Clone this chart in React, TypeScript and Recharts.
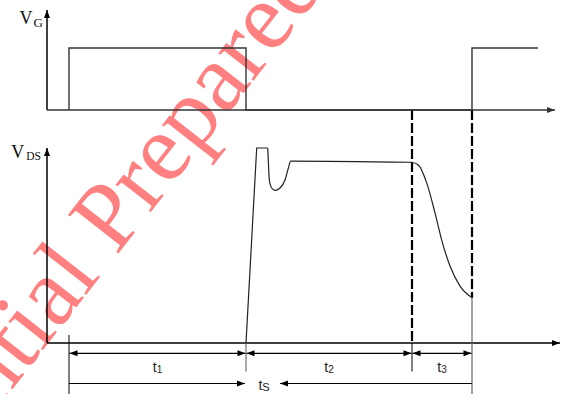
import React from 'react';
import { ComposedChart, Line, XAxis, YAxis, ReferenceLine, ReferenceDot } from 'recharts';

// time axis (arbitrary units from the origin), levels normalised to 1
const vgTime = [22, 22, 199, 199, 425, 425, 491];
const vgLevel = [0, 1, 1, 0, 0, 1, 1];

const vdsEdgeTime = [199, 209.7, 220.7];
const vdsEdgeLevel = [0, 1, 1];

const vdsRingTime = [220.7, 221.3, 222.3, 224.7, 228, 233, 238, 241.3, 243.7, 364.7];
const vdsRingLevel = [1, 0.938, 0.836, 0.795, 0.783, 0.795, 0.836, 0.896, 0.933, 0.927];

const vdsFallTime = [364.7, 371.3, 379.7, 388, 394.7, 403, 413, 425.3];
const vdsFallLevel = [0.927, 0.913, 0.821, 0.667, 0.528, 0.395, 0.292, 0.232];

const phaseEdges = [22, 199, 365, 425];
const phaseLabels = ['1', '2', '3'];
const switchLabel = 'S';

const W = 563;
const H = 394;
const LEFT = 47;

// pixel rows used to place the two traces in one plot
const VG_ZERO = 110;
const VG_ONE = 48;
const VDS_ZERO = 343;
const VDS_ONE = 148;
const vgDomain = [-(H - VG_ZERO) / (VG_ZERO - VG_ONE), VG_ZERO / (VG_ZERO - VG_ONE)];
const vdsDomain = [-(H - VDS_ZERO) / (VDS_ZERO - VDS_ONE), VDS_ZERO / (VDS_ZERO - VDS_ONE)];
const vds = (px: number) => (VDS_ZERO - px) / (VDS_ZERO - VDS_ONE);

const zip = (t: number[], v: number[]) => t.map((x, i) => ({ t: x, v: v[i] }));

const head = (x: number, y: number, a: number, color: string) => {
  const L = 8;
  const w = 3;
  const bx = x - L * Math.cos(a);
  const by = y - L * Math.sin(a);
  const px = w * Math.sin(a);
  const py = -w * Math.cos(a);
  return <polygon points={`${x},${y} ${bx + px},${by + py} ${bx - px},${by - py}`} fill={color} />;
};

const Arrow = (p: any) => {
  const { x1, y1, x2, y2, heads = 'end' } = p;
  const color = p.stroke || '#000';
  const a = Math.atan2(y2 - y1, x2 - x1);
  return (
    <g>
      <line x1={x1} y1={y1} x2={x2} y2={y2} stroke={color} strokeWidth={p.strokeWidth || 1.2} />
      {(heads === 'end' || heads === 'both') && head(x2, y2, a, color)}
      {(heads === 'start' || heads === 'both') && head(x1, y1, a + Math.PI, color)}
    </g>
  );
};

const sansFont = '"Liberation Sans Narrow", "Liberation Sans", Arial, sans-serif';
const serifFont = '"Liberation Serif", "Times New Roman", serif';

export default function App() {
  const rowY = vds(353.3);
  const labelY = vds(371.5);
  const row2Y = vds(383.5);
  const bottom = vdsDomain[0];

  return (
    <div style={{ position: 'absolute', left: 0, top: 0, width: W, height: H, background: '#fff' }}>
      <svg width={W} height={H} style={{ position: 'absolute', left: 0, top: 0 }}>
        <text
          transform="translate(25,373) rotate(-52)"
          x={-361}
          fontFamily={serifFont}
          fontSize={97}
          fill="#ff8080"
        >
          Confidential Prepared
        </text>
      </svg>
      <div style={{ position: 'absolute', left: 0, top: 0 }}>
        <ComposedChart width={W} height={H} margin={{ top: 0, right: 0, bottom: 0, left: LEFT }}>
          <XAxis type="number" dataKey="t" domain={[0, W - LEFT]} hide allowDataOverflow />
          <YAxis yAxisId="vg" type="number" domain={vgDomain} hide allowDataOverflow />
          <YAxis yAxisId="vds" type="number" domain={vdsDomain} hide allowDataOverflow />

          {/* axes */}
          <ReferenceLine yAxisId="vg" ifOverflow="visible" stroke="#000" strokeWidth={1.5}
            segment={[{ x: 0, y: 0 }, { x: 0, y: (VG_ZERO - 10) / (VG_ZERO - VG_ONE) }]} shape={(p: any) => <Arrow {...p} />} />
          <ReferenceLine yAxisId="vg" ifOverflow="visible" stroke="#333" strokeWidth={1.3}
            segment={[{ x: 0, y: 0 }, { x: 508, y: 0 }]} shape={(p: any) => <Arrow {...p} />} />
          <ReferenceLine yAxisId="vds" ifOverflow="visible" stroke="#000" strokeWidth={1.5}
            segment={[{ x: 0, y: 0 }, { x: 0, y: 1 }]} shape={(p: any) => <Arrow {...p} />} />
          <ReferenceLine yAxisId="vds" ifOverflow="visible" stroke="#000" strokeWidth={1.3}
            segment={[{ x: 0, y: 0 }, { x: 513, y: 0 }]} shape={(p: any) => <Arrow {...p} />} />

          {/* switching instants */}
          <ReferenceLine yAxisId="vds" ifOverflow="visible" stroke="#000" strokeWidth={2.2} strokeDasharray="10 3"
            segment={[{ x: phaseEdges[2], y: vds(VG_ZERO) }, { x: phaseEdges[2], y: 0 }]} />
          <ReferenceLine yAxisId="vds" ifOverflow="visible" stroke="#000" strokeWidth={1}
            segment={[{ x: phaseEdges[2], y: 0 }, { x: phaseEdges[2], y: labelY }]} />
          <ReferenceLine yAxisId="vds" ifOverflow="visible" stroke="#000" strokeWidth={2.2} strokeDasharray="10 3"
            segment={[{ x: phaseEdges[3], y: vds(VG_ZERO) }, { x: phaseEdges[3], y: vdsFallLevel[vdsFallLevel.length - 1] }]} />
          <ReferenceLine yAxisId="vds" ifOverflow="visible" stroke="#666" strokeWidth={1.2}
            segment={[{ x: phaseEdges[3], y: vdsFallLevel[vdsFallLevel.length - 1] }, { x: phaseEdges[3], y: bottom }]} />
          <ReferenceLine yAxisId="vds" ifOverflow="visible" stroke="#000" strokeWidth={1}
            segment={[{ x: phaseEdges[0], y: vds(335) }, { x: phaseEdges[0], y: bottom }]} />
          <ReferenceLine yAxisId="vds" ifOverflow="visible" stroke="#555" strokeWidth={1}
            segment={[{ x: phaseEdges[1], y: 0 }, { x: phaseEdges[1], y: labelY }]} />

          {/* interval arrows */}
          {phaseLabels.map((lab, i) => (
            <ReferenceLine key={'a' + lab} yAxisId="vds" ifOverflow="visible" stroke="#000" strokeWidth={1.2}
              segment={[{ x: phaseEdges[i] + 0.5, y: rowY }, { x: phaseEdges[i + 1] - 0.5, y: rowY }]}
              shape={(p: any) => <Arrow {...p} heads="both" />} />
          ))}
          {phaseLabels.map((lab, i) => (
            <ReferenceDot key={'l' + lab} yAxisId="vds" ifOverflow="visible" r={0}
              x={(phaseEdges[i] + phaseEdges[i + 1]) / 2} y={labelY}
              shape={(p: any) => (
                <text x={p.cx} y={p.cy} textAnchor="middle" fontFamily={sansFont} fontSize={14} fill="#222">
                  t<tspan fontSize={10} dy={1}>{lab}</tspan>
                </text>
              )} />
          ))}
          <ReferenceLine yAxisId="vds" ifOverflow="visible" stroke="#000" strokeWidth={1.2}
            segment={[{ x: phaseEdges[0], y: row2Y }, { x: phaseEdges[1] - 1, y: row2Y }]}
            shape={(p: any) => <Arrow {...p} />} />
          <ReferenceLine yAxisId="vds" ifOverflow="visible" stroke="#000" strokeWidth={1.2}
            segment={[{ x: phaseEdges[3], y: row2Y }, { x: 233, y: row2Y }]}
            shape={(p: any) => <Arrow {...p} />} />
          <ReferenceDot yAxisId="vds" ifOverflow="visible" r={0} x={217} y={vds(389.5)}
            shape={(p: any) => (
              <text x={p.cx} y={p.cy} textAnchor="middle" fontFamily={sansFont} fontSize={14} fill="#222">
                t<tspan fontSize={11} dy={1}>{switchLabel}</tspan>
              </text>
            )} />

          {/* axis titles */}
          <ReferenceDot yAxisId="vg" ifOverflow="visible" r={0} x={0} y={(VG_ZERO - 10) / (VG_ZERO - VG_ONE)}
            shape={(p: any) => (
              <text x={p.cx - 4} y={p.cy + 14} textAnchor="end" fontFamily={serifFont} fontSize={18} fill="#111">
                V<tspan fontSize={13} dx={1} dy={2.5}>G</tspan>
              </text>
            )} />
          <ReferenceDot yAxisId="vds" ifOverflow="visible" r={0} x={0} y={1}
            shape={(p: any) => (
              <text x={p.cx - 6} y={p.cy + 10} textAnchor="end" fontFamily={serifFont} fontSize={18} fill="#111">
                V<tspan fontSize={11.5} dx={2} dy={2}>DS</tspan>
              </text>
            )} />

          <Line yAxisId="vg" data={zip(vgTime, vgLevel)} dataKey="v" type="linear" stroke="#333" strokeWidth={1.4}
            dot={false} isAnimationActive={false} />
          <Line yAxisId="vds" data={zip(vdsEdgeTime, vdsEdgeLevel)} dataKey="v" type="linear" stroke="#222" strokeWidth={1.2}
            dot={false} isAnimationActive={false} />
          <Line yAxisId="vds" data={zip(vdsRingTime, vdsRingLevel)} dataKey="v" type="monotone" stroke="#222" strokeWidth={1.2}
            dot={false} isAnimationActive={false} />
          <Line yAxisId="vds" data={zip(vdsFallTime, vdsFallLevel)} dataKey="v" type="monotone" stroke="#222" strokeWidth={1.2}
            dot={false} isAnimationActive={false} />
        </ComposedChart>
      </div>
    </div>
  );
}
